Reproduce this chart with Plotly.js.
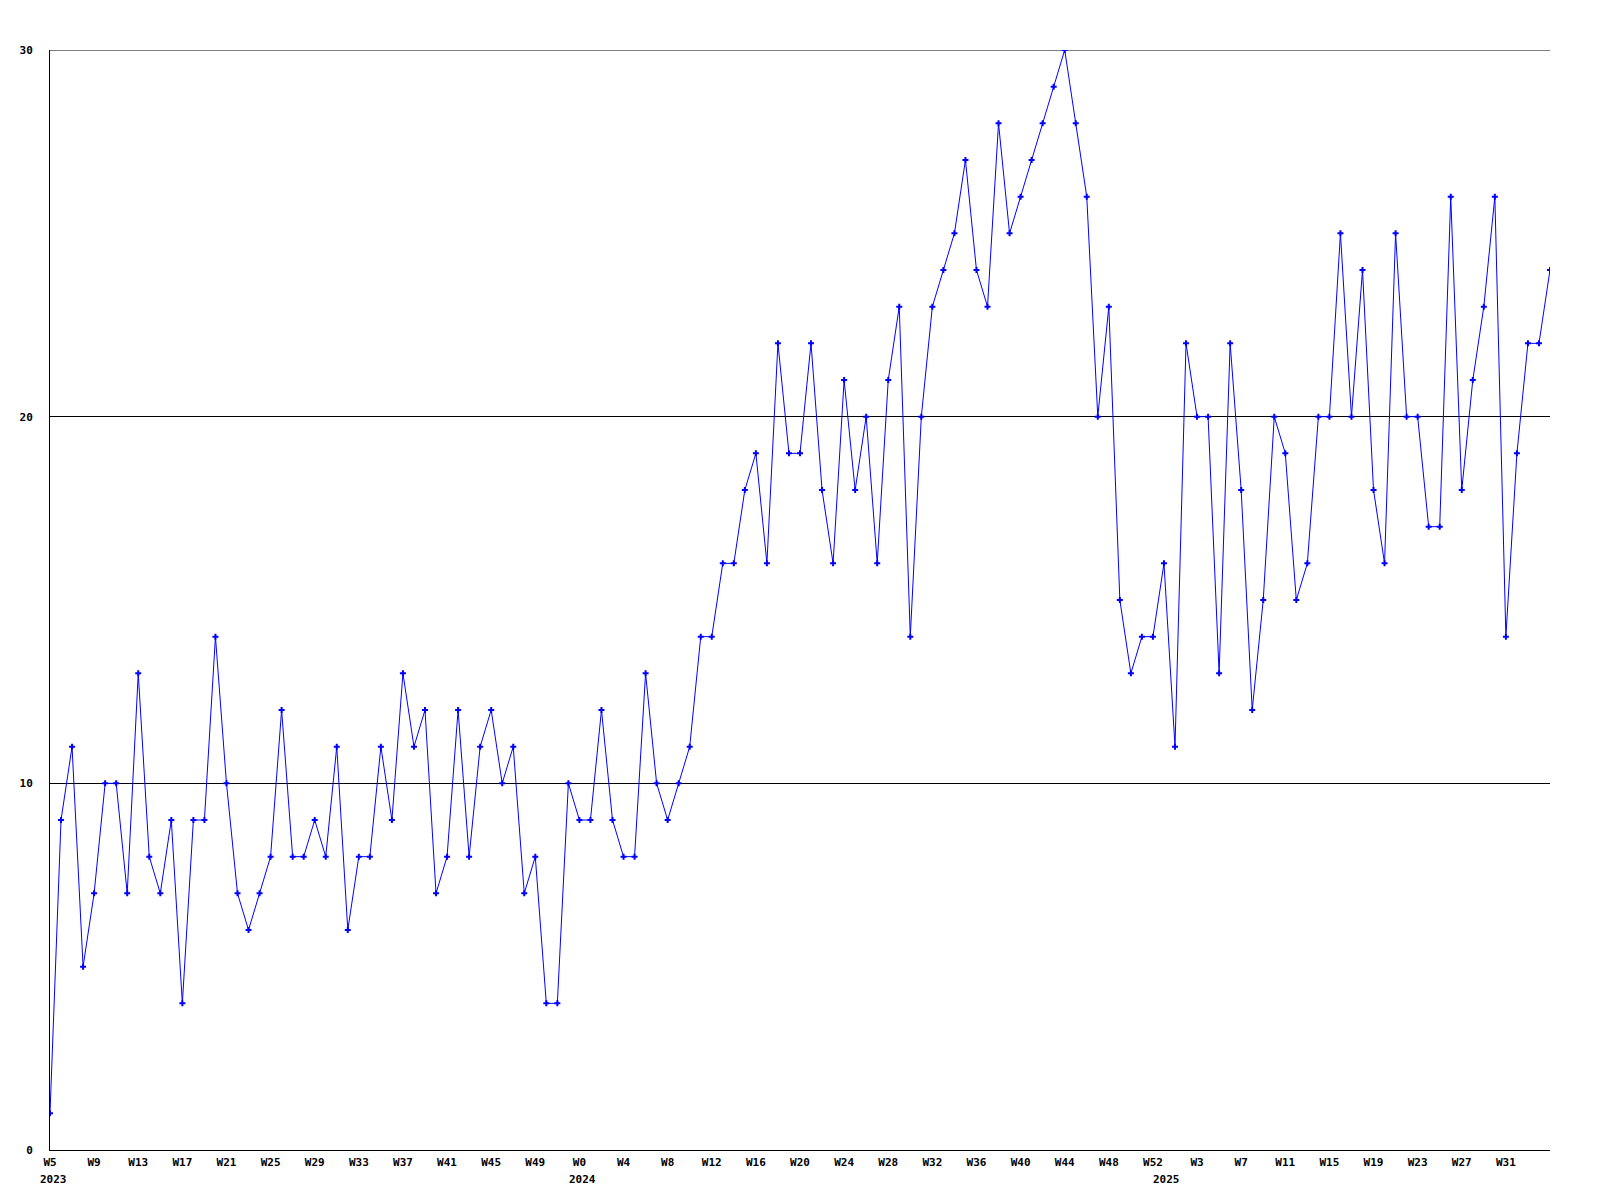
<!DOCTYPE html>
<html>
<head>
<meta charset="utf-8">
<script src="https://cdn.plot.ly/plotly-3.0.1.min.js"></script>
<style>
  html, body { margin: 0; padding: 0; background: #ffffff; }
  #chart { width: 1600px; height: 1200px; }
</style>
</head>
<body>
<div id="chart"></div>
<script>
// Year spans of the weekly series (week numbers as printed on the axis)
const years = [2023, 2024, 2025];
const firstWeek = [5, 0, 0];
const lastWeek = [52, 52, 35];

// Weekly values (2023 W5 ... 2025 W35)
const values2023 = [1, 9, 11, 5, 7, 10, 10, 7, 13, 8, 7, 9, 4, 9, 9, 14, 10, 7, 6, 7,
                    8, 12, 8, 8, 9, 8, 11, 6, 8, 8, 11, 9, 13, 11, 12, 7, 8, 12, 8, 11,
                    12, 10, 11, 7, 8, 4, 4, 10];
const values2024 = [9, 9, 12, 9, 8, 8, 13, 10, 9, 10, 11, 14, 14, 16, 16, 18, 19, 16, 22, 19,
                    19, 22, 18, 16, 21, 18, 20, 16, 21, 23, 14, 20, 23, 24, 25, 27, 24, 23, 28, 25,
                    26, 27, 28, 29, 30, 28, 26, 20, 23, 15, 13, 14, 14];
const values2025 = [16, 11, 22, 20, 20, 13, 22, 18, 12, 15, 20, 19, 15, 16, 20, 20, 25, 20, 24, 18,
                    16, 25, 20, 20, 17, 17, 26, 18, 21, 23, 26, 14, 19, 22, 22, 24];

const yTicks = [0, 10, 20, 30];
const tickEvery = 4;

// Build category list
const weekLabels = [];
const yearOfPoint = [];
years.forEach((yr, k) => {
  for (let w = firstWeek[k]; w <= lastWeek[k]; w++) {
    weekLabels.push('W' + w);
    yearOfPoint.push(yr);
  }
});
const values = values2023.concat(values2024, values2025);
const xIdx = values.map((_, i) => i);
const lastIdx = weekLabels.length - 1;

const tickvals = [], ticktext = [];
for (let i = 0; i < lastIdx; i += tickEvery) {
  tickvals.push(i);
  ticktext.push(weekLabels[i]);
}

const font = { family: 'DejaVu Sans Mono, monospace', size: 11, color: '#000000', weight: 'bold' };

const annotations = years.map(yr => ({
  x: yearOfPoint.indexOf(yr),
  xref: 'x',
  y: 0,
  yref: 'paper',
  text: String(yr),
  showarrow: false,
  xanchor: 'center',
  yanchor: 'top',
  xshift: 3,
  yshift: -21,
  font: font
}));

const trace = {
  x: xIdx,
  y: values,
  type: 'scatter',
  mode: 'lines+markers',
  line: { color: '#0000ff', width: 1 },
  marker: { symbol: 'cross', size: 5, color: '#0000ff' },
  hoverinfo: 'skip',
  cliponaxis: true
};

const layout = {
  width: 1600,
  height: 1200,
  paper_bgcolor: '#ffffff',
  plot_bgcolor: '#ffffff',
  margin: { l: 50, r: 50, t: 50, b: 50, pad: 0 },
  showlegend: false,
  font: font,
  xaxis: {
    range: [0, lastIdx],
    tickmode: 'array',
    tickvals: tickvals,
    ticktext: ticktext,
    ticks: '',
    showgrid: false,
    zeroline: false,
    showline: true,
    linecolor: '#000000',
    linewidth: 1,
    tickfont: font,
    ticklabelstandoff: 2
  },
  yaxis: {
    range: [0, 30],
    tickmode: 'array',
    tickvals: yTicks,
    ticktext: yTicks.map(String),
    ticks: '',
    showgrid: true,
    gridcolor: '#000000',
    gridwidth: 1,
    zeroline: false,
    showline: true,
    linecolor: '#000000',
    linewidth: 1,
    tickfont: font,
    ticklabelstandoff: 14
  },
  shapes: [{
    type: 'line',
    xref: 'paper', x0: 0, x1: 1,
    yref: 'y', y0: yTicks[yTicks.length - 1], y1: yTicks[yTicks.length - 1],
    line: { color: '#000000', width: 1 },
    layer: 'below'
  }],
  annotations: annotations
};

Plotly.newPlot('chart', [trace], layout, { staticPlot: true, displayModeBar: false });
</script>
</body>
</html>
